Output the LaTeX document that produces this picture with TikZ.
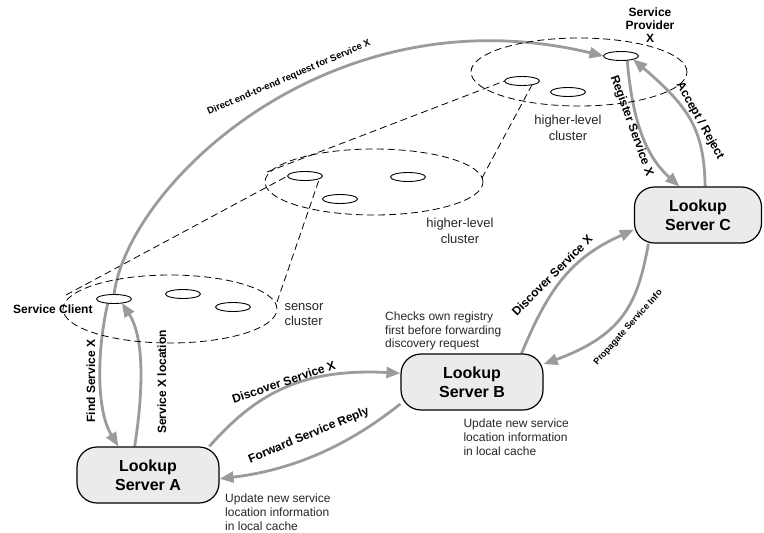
\documentclass[tikz,border=0pt]{standalone}
\usepackage{fontspec}
\setmainfont{Liberation Sans}
\usetikzlibrary{arrows.meta,shapes.geometric}
\definecolor{arrowgray}{RGB}{155,155,155}
\definecolor{boxfill}{RGB}{235,235,235}
\pgfdeclarelayer{bg}
\pgfsetlayers{bg,main}
\begin{document}
\begin{tikzpicture}[x=1pt,y=-1pt,
  cluster/.style={draw, ellipse, dash pattern=on 7pt off 4pt, line width=0.8pt, inner sep=0pt},
  cone/.style={dash pattern=on 7pt off 4pt, line width=0.8pt},
  dev/.style={draw, ellipse, fill=white, line width=0.9pt, minimum width=35pt, minimum height=9pt, inner sep=0pt, outer sep=0pt},
  server/.style={draw, line width=1.2pt, fill=boxfill, rounded corners=20pt, minimum height=56pt, align=center, font=\fontsize{16}{19.3}\selectfont\bfseries, inner sep=0pt},
  flow/.style={draw=arrowgray, line width=2.8pt, -{Triangle[length=14pt,width=11pt]}},
  blab/.style={font=\fontsize{12}{13.3}\selectfont\bfseries, inner sep=0pt},
  note/.style={font=\fontsize{12}{13.8}\selectfont, align=left, inner sep=0pt, text=black!85, anchor=north west},
  clab/.style={font=\fontsize{13}{15.5}\selectfont, inner sep=0pt, text=black!85, anchor=north}
]
\useasboundingbox (0,0) rectangle (764,533);

% clusters
\node[cluster, minimum width=214pt, minimum height=68pt] (sensor) at (170,309) {};
\node[cluster, minimum width=218pt, minimum height=66pt] (mid) at (374,182) {};
\node[cluster, minimum width=216pt, minimum height=68pt] (top) at (579,72) {};

% devices
\node[dev] (sc) at (114,299) {};
\node[dev] (s2) at (183,294) {};
\node[dev] (s3) at (233,307) {};
\node[dev] (m1) at (305,176) {};
\node[dev] (m2) at (340,199) {};
\node[dev] (m3) at (408,177) {};
\node[dev] (t1) at (522,81) {};
\node[dev] (t2) at (568,92) {};
\node[dev] (sp) at (621,56) {};

% cone end points on cluster rims
\coordinate (sL) at (66,295);
\coordinate (sR) at (277,302);
\coordinate (mL) at (267,172);
\coordinate (mR) at (482,178);

% servers
\node[server, minimum width=142pt] (A) at (148,475) {Lookup\\Server A};
\node[server, minimum width=142pt] (B) at (472,382) {Lookup\\Server B};
\node[server, minimum width=127pt] (C) at (698,215) {Lookup\\Server C};

\begin{pgfonlayer}{bg}
\draw[cone] (sL) -- (m1.west);
\draw[cone] (sR) -- (m1.-10);
\draw[cone] (mL) -- (t1.west);
\draw[cone] (mR) -- (t1.-20);

\draw[flow] (sc.north) .. controls (128,185) and (330,-10) .. (sp.west);
\draw[flow] (sc.214) .. controls (97,350) and (96,410) .. (A.136);
\draw[flow] (A.115) .. controls (142,400) and (146,340) .. (sc.-27);
\draw[flow] (A.25) .. controls (255,395) and (300,368) .. (B.173);
\draw[flow] (B.197) .. controls (365,432) and (310,468) .. (A.-3);
\draw[flow] (B.30) .. controls (548,290) and (570,258) .. (C.193);
\draw[flow] (C.210) .. controls (638,300) and (626,334) .. (B.14);
\draw[flow] (sp.-34) .. controls (633,130) and (650,160) .. (C.123);
\draw[flow] (C.76) .. controls (704,130) and (690,108) .. (sp.-15);
\end{pgfonlayer}

% labels
\node[blab, anchor=base west] (lsc) at (13,313) {Service Client};
\node[blab, align=center, anchor=north] (lsp) at (650,7.3) {Service\\Provider\\X};
\node[clab, align=left, anchor=north west] (lsens) at (284.3,303) {sensor\\cluster};
\node[clab, align=center] (lmid) at (460,218.3) {higher-level\\cluster};
\node[clab, align=center] (ltop) at (568,115) {higher-level\\cluster};
\node[note] (nB1) at (385,311.5) {Checks own registry\\first before forwarding\\discovery request};
\node[note] (nA) at (225,494) {Update new service\\location information\\in local cache};
\node[note] (nB2) at (463.3,419) {Update new service\\location information\\in local cache};

\node[blab, font=\fontsize{9.5}{11}\selectfont\bfseries, rotate=23.2, anchor=base] (ldir) at (290,80) {Direct end-to-end request for Service X};
\node[blab, rotate=90, anchor=base] (lfind) at (95,381) {Find Service X};
\node[blab, rotate=90, anchor=base] (lloc) at (166,382) {Service X location};
\node[blab, rotate=18.5, anchor=base] (ldab) at (285,386) {Discover Service X};
\node[blab, rotate=22.6, anchor=base] (lfwd) at (310,438.3) {Forward Service Reply};
\node[blab, rotate=45, anchor=base] (ldbc) at (555,278.5) {Discover Service X};
\node[blab, font=\fontsize{9}{11}\selectfont\bfseries, rotate=48, anchor=base] (lprop) at (630,329) {Propagate Service Info};
\node[blab, rotate=-70] (lreg) at (631.5,126) {Register Service X};
\node[blab, rotate=-61] (lacc) at (700,121) {Accept / Reject};
\end{tikzpicture}
\end{document}
